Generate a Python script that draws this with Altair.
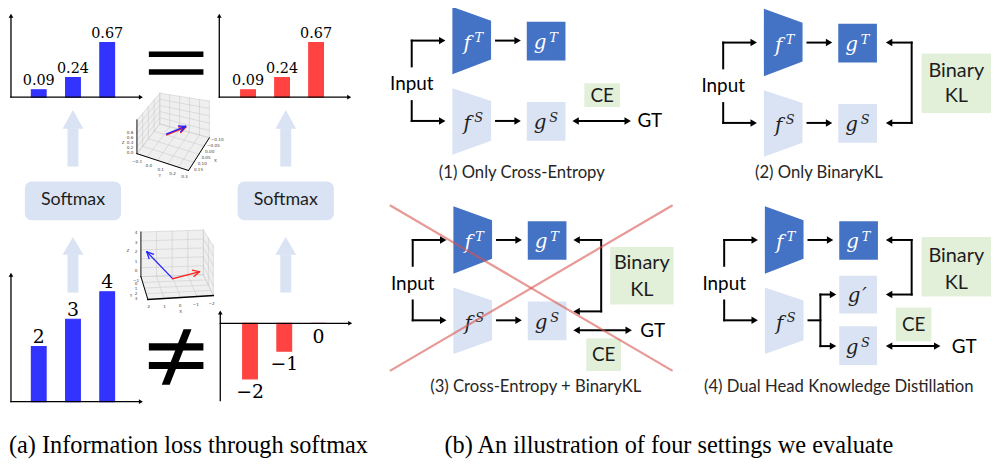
import math
import altair as alt
import pandas as pd

# ---------------- values ----------------
probs = [0.09, 0.24, 0.67]
prob_labels = ["0.09", "0.24", "0.67"]
logits_pos = [2, 3, 4]
logits_pos_labels = ["2", "3", "4"]
logits_neg = [-2, -1, 0]
logits_neg_labels = ["\u22122", "\u22121", "0"]

softmax_text = "Softmax"
input_text = "Input"
ce_text = "CE"
gt_text = "GT"
kl_text = ["Binary", "KL"]
setting_titles = ["(1) Only Cross-Entropy", "(2) Only BinaryKL",
                  "(3) Cross-Entropy + BinaryKL", "(4) Dual Head Knowledge Distillation"]
subcaptions = ["(a) Information loss through softmax",
               "(b) An illustration of four settings we evaluate"]

top3d_z = ["0.8", "0.6", "0.4", "0.2", "0.0"]
top3d_y = ["\u22120.1", "0.0", "0.1", "0.2", "0.3"]
top3d_x = ["0.15", "0.10", "0.05", "0.00", "\u22120.05", "\u22120.10"]
low3d_z = ["4", "3", "2", "1", "0", "\u22121"]
low3d_y = ["0", "1", "2", "3"]
low3d_x = ["2", "1", "0", "\u22121", "\u22122"]

# ---------------- styles ----------------
DARK = "#4472C4"
LIGHT = "#DAE3F3"
GREEN = "#E2F0D9"
BAR_BLUE = "#3333FF"
BAR_RED = "#FF4343"
PANE = "#EFEFEF"
GRID = "#CDCDCD"
INK = "#000000"
TXT = "#1E1E1E"

W, H = 992, 457
sx = alt.Scale(domain=[8, 8 + W], nice=False, zero=False)
sy = alt.Scale(domain=[8, 8 + H], nice=False, zero=False, reverse=True)


def ex(f):
    return alt.X(f"{f}:Q", scale=sx, axis=None)


def ey(f):
    return alt.Y(f"{f}:Q", scale=sy, axis=None, stack=None)


def C(f="c"):
    return alt.Color(f"{f}:N", scale=None)


rects, rrects, polys, rules, tris = [], [], [], [], []
sans, math_t, tiny, cross = [], [], [], []


def rect(x1, y1, x2, y2, c):
    rects.append(dict(x=x1, y=y1, x2=x2, y2=y2, c=c))


def poly(verts, c):
    # a filled polygon drawn as a point symbol whose outline is given relative to its centre
    cx = sum(v[0] for v in verts) / len(verts)
    cy = sum(v[1] for v in verts) / len(verts)
    path = "M" + "L".join(f"{v[0] - cx:.2f},{v[1] - cy:.2f}" for v in verts) + "Z"
    polys.append(dict(x=cx, y=cy, s=path, c=c))


def rule(x1, y1, x2, y2, w=2.0, c=INK):
    rules.append(dict(x=x1, y=y1, x2=x2, y2=y2, w=w, c=c))


def head(tx, ty, d, sz=56, c=INK):
    h = 0.433 * math.sqrt(sz)
    dx, dy = {"right": (1, 0), "left": (-1, 0), "up": (0, -1)}[d]
    tris.append(dict(x=tx - dx * h, y=ty - dy * h, s="triangle-" + d, sz=sz, c=c))


def arrow_r(x0, y, tip):
    rule(x0, y, tip - 6, y)
    head(tip, y, "right")


def arrow_l(x0, y, tip):
    rule(tip + 6, y, x0, y)
    head(tip, y, "left")


def dbl(xa, xb, y):
    rule(xa + 6, y, xb - 6, y)
    head(xa, y, "left")
    head(xb, y, "right")


def text(x, y, t, fs, c=TXT):
    sans.append(dict(x=x, y=y, t=t, fs=fs, c=c))


def mathsym(main, sup, cx, cy, c):
    if main == "f":
        math_t.append(dict(x=cx - 4.5, y=cy + 9, t="f", fs=20, c=c))
        math_t.append(dict(x=cx + 7, y=cy + 1, t=sup, fs=13, c=c))
    else:
        math_t.append(dict(x=cx - 6, y=cy + 8, t="g", fs=20, c=c))
        math_t.append(dict(x=cx + 7.5, y=cy + 1, t=sup, fs=13, c=c))


# ---------------- panel (a): bars ----------------
bar_specs = [
    (probs, prob_labels, 39, 34.5, 96, 82, BAR_BLUE, -5, 14.5),
    (probs, prob_labels, 250, 34.3, 96, 82, BAR_RED, -5, 14.5),
    (logits_pos, logits_pos_labels, 39, 34.5, 403, 27.7, BAR_BLUE, -3.5, 19),
    (logits_neg, logits_neg_labels, 252, 34.5, 324, 28, BAR_RED, 19.5, 19),
]
bar_rows = []
for vals, labs, x0, dx, base, unit, col, loff, fs in bar_specs:
    for i, (v, lab) in enumerate(zip(vals, labs)):
        bar_rows.append(dict(val=v, lab=lab, i=i, x0=x0, dx=dx, base=base,
                             unit=unit, c=col, loff=loff, fs=fs))
bars_df = pd.DataFrame(bar_rows)

# axes of the four small bar charts
for (ax, ay, ytop, xend) in [(11, 96, 12, 144), (221, 96, 12, 354), (11, 403, 273, 144)]:
    rule(ax, ytop + 3, ax, ay, 1.3)
    rule(ax, ay, xend - 4, ay, 1.3)
    head(ax, ytop, "up", 22)
    head(xend, ay, "right", 22)
rule(222, 314, 222, 402, 1.3)
rule(222, 324, 351, 324, 1.3)
head(222, 311, "up", 22)
head(355, 324, "right", 22)

# = and != signs
rect(150, 50, 205, 55.5, INK)
rect(150, 68, 205, 73.5, INK)
rect(150, 344, 205, 351.5, INK)
rect(150, 363, 205, 370, INK)
poly([(185, 330), (193, 330), (171, 386), (163, 386)], INK)

# softmax boxes and light block arrows
for cx in (73.5, 288):
    rrects.append(dict(x=cx - 48.5, y=181, x2=cx + 48.5, y2=220, c=LIGHT))
    text(cx, 200, softmax_text, 18)
    for (tip, base, bot) in [(109, 128, 166), (237, 255, 293)]:
        rect(cx - 5.5, base - 0.5, cx + 5.5, bot, LIGHT)
        poly([(cx - 10.5, base), (cx, tip), (cx + 10.5, base)], LIGHT)


# ---------------- panel (a): 3D plots ----------------
def lerp(a, b, t):
    return (a[0] + (b[0] - a[0]) * t, a[1] + (b[1] - a[1]) * t)


def pane_grid(a, b, c, d, nu, nv):
    for k in range(0, nu + 1):
        p, q = lerp(a, b, k / nu), lerp(d, c, k / nu)
        rule(p[0], p[1], q[0], q[1], 0.6, GRID)
    for k in range(0, nv + 1):
        p, q = lerp(a, d, k / nv), lerp(b, c, k / nv)
        rule(p[0], p[1], q[0], q[1], 0.6, GRID)


def vec_arrow(o, p, c, w=1.3, hl=7, ang=26):
    rule(o[0], o[1], p[0], p[1], w, c)
    vx, vy = o[0] - p[0], o[1] - p[1]
    n = math.hypot(vx, vy)
    vx, vy = vx / n, vy / n
    for s in (1, -1):
        a = math.radians(ang) * s
        rx = vx * math.cos(a) - vy * math.sin(a)
        ry = vx * math.sin(a) + vy * math.cos(a)
        rule(p[0], p[1], p[0] + hl * rx, p[1] + hl * ry, w, c)


Lt, Lb, Bt, Bb, Rt, Rb, Fr = (138, 119), (138, 153), (161, 92), (161, 123), (211, 100), (211, 137), (190, 170)
upper_panes = [(Lt, Bt, Bb, Lb, 4, 5), (Bt, Rt, Rb, Bb, 5, 5), (Lb, Bb, Rb, Fr, 4, 5)]
lower_panes = [((142, 232), (205, 230), (205, 275), (142, 277), 4, 5),
               ((205, 230), (215, 246), (215, 296), (205, 275), 2, 5),
               ((142, 277), (205, 275), (215, 296), (149, 300), 4, 4)]
for pset in (upper_panes, lower_panes):
    for a, b, c, d, nu, nv in pset:
        poly([a, b, c, d], PANE)
for pset in (upper_panes, lower_panes):
    for a, b, c, d, nu, nv in pset:
        pane_grid(a, b, c, d, nu, nv)

rule(Lt[0], Lt[1], Lb[0], Lb[1], 0.9)
rule(Lb[0], Lb[1], Fr[0], Fr[1], 1.0)
rule(Fr[0], Fr[1], Rb[0], Rb[1], 1.0)
rule(142, 232, 142, 277, 0.9)
rule(142, 277, 149, 300, 1.0)
rule(149, 300, 215, 296, 1.4)

vec_arrow((168, 134), (187, 126.5), "#FF2020")
vec_arrow((168, 133), (187, 125.5), "#2020FF")
vec_arrow((174, 279), (148, 252), "#2020FF")
vec_arrow((174, 279), (201, 272), "#FF2020")

for k, t in enumerate(top3d_z):
    tiny.append(dict(x=131, y=132 + k * 5.2, t=t))
tiny.append(dict(x=124, y=142, t="Z"))
for k, t in enumerate(top3d_y):
    p = lerp(Lb, Fr, 0.02 + k * 0.23)
    tiny.append(dict(x=p[0] - 1, y=p[1] + 8, t=t))
tiny.append(dict(x=161, y=176, t="Y"))
for k, t in enumerate(top3d_x):
    p = lerp(Fr, Rb, 0.05 + k * 0.18)
    tiny.append(dict(x=p[0] + 9, y=p[1] + 1, t=t))
tiny.append(dict(x=217, y=160, t="X"))
for k, t in enumerate(low3d_z):
    tiny.append(dict(x=137, y=233 + k * 9.6, t=t))
tiny.append(dict(x=129, y=251, t="Z"))
for k, t in enumerate(low3d_y):
    tiny.append(dict(x=137, y=284 + k * 5.3, t=t))
tiny.append(dict(x=132, y=296, t="Y"))
for k, t in enumerate(low3d_x):
    tiny.append(dict(x=150 + k * 15.8, y=308 - k * 0.9, t=t))
tiny.append(dict(x=182, y=313, t="X"))


# ---------------- panel (b): four diagrams ----------------
def diagram(ox, oy, has_gs=True):
    def P(x, y):
        return x + ox, y + oy
    x, y = P(415, 39); rule(x, y, x, y + 26); arrow_r(x, y, x + 34)
    x, y = P(415, 120); rule(x, y - 20, x, y); arrow_r(x, y, x + 34)
    poly([P(456, 5), P(495, 19), P(495, 58), P(456, 73)], DARK)
    poly([P(456, 87), P(495, 100), P(495, 140), P(456, 154)], LIGHT)
    x, y = P(500, 39); arrow_r(x, y, x + 25)
    x1, y1 = P(531, 20); x2, y2 = P(570, 59); rect(x1, y1, x2, y2, DARK)
    x, y = P(415, 83); text(x, y, input_text, 19, INK)
    cx, cy = P(475.5, 39); mathsym("f", "T", cx, cy, "#FFFFFF")
    cx, cy = P(475.5, 120.5); mathsym("f", "S", cx, cy, TXT)
    cx, cy = P(550.5, 39.5); mathsym("g", "T", cx, cy, "#FFFFFF")
    if has_gs:
        x, y = P(500, 120); arrow_r(x, y, x + 25)
        x1, y1 = P(531, 101); x2, y2 = P(570, 140); rect(x1, y1, x2, y2, LIGHT)
        cx, cy = P(550.5, 120.5); mathsym("g", "S", cx, cy, TXT)


def kl_box(x1, y1, x2, y2, ty1, ty2):
    rect(x1, y1, x2, y2, GREEN)
    text((x1 + x2) / 2, ty1, kl_text[0], 20)
    text((x1 + x2) / 2, ty2, kl_text[1], 20)


def ce_box(x1, y1, x2, y2):
    rect(x1, y1, x2, y2, GREEN)
    text((x1 + x2) / 2, (y1 + y2) / 2 + 0.5, ce_text, 19)


def bracket(xt, xv, ya, yb):
    arrow_l(xv, ya, xt)
    rule(xv, ya, xv, yb)
    arrow_l(xv, yb, xt)


# (1)
diagram(0, 0)
ce_box(589, 82, 625, 106)
dbl(577, 636, 120)
text(655, 120.5, gt_text, 19, INK)
# (2)
diagram(314, 2)
bracket(893, 919, 41, 122)
kl_box(929, 52, 999, 112, 70, 95)
# (3)
diagram(1, 201)
bracket(578, 606, 240, 312)
kl_box(615, 247, 679, 305, 263, 290)
dbl(578, 637, 331)
text(658, 331.5, gt_text, 19, INK)
ce_box(591, 339, 626, 372)
cross.append(dict(x=393, y=205, x2=678, y2=372))
cross.append(dict(x=393, y=372, x2=678, y2=205))
# (4)
diagram(315, 201, has_gs=False)
rule(815, 321, 827, 321)
rule(827, 295, 827, 347)
arrow_r(827, 295, 843)
arrow_r(827, 347, 843)
rect(846, 276, 884, 314, LIGHT)
math_t.append(dict(x=861, y=303, t="g", fs=20, c=TXT))
math_t.append(dict(x=871.5, y=303, t="\u2032", fs=20, c=TXT))
rect(846, 327, 884, 366, LIGHT)
mathsym("g", "S", 865, 346.5, TXT)
bracket(893, 919, 240, 295)
kl_box(929, 237, 999, 297, 256, 283)
ce_box(903, 308, 939, 342)
dbl(893, 948, 347)
text(972, 347.5, gt_text, 19, INK)

for t, (cx, cy) in zip(setting_titles, [(526, 173), (825.5, 173), (540, 388), (845.5, 388)]):
    text(cx, cy, t, 16.8, "#262626")

caps = [dict(x=9, y=455, t=subcaptions[0]), dict(x=448, y=455, t=subcaptions[1])]

# ---------------- layers ----------------
l_rrect = alt.Chart(pd.DataFrame(rrects)).mark_rect(cornerRadius=7).encode(
    x=ex("x"), x2="x2:Q", y=ey("y"), y2="y2:Q", color=C())
l_rect = alt.Chart(pd.DataFrame(rects)).mark_rect().encode(
    x=ex("x"), x2="x2:Q", y=ey("y"), y2="y2:Q", color=C())
l_poly = alt.Chart(pd.DataFrame(polys)).mark_point(
    filled=True, opacity=1, strokeWidth=0, size=4).encode(
    x=ex("x"), y=ey("y"), shape=alt.Shape("s:N", scale=None), color=C())
l_bars = alt.Chart(bars_df).transform_calculate(
    xl="datum.x0 + datum.i * datum.dx - 7.4",
    xr="datum.x0 + datum.i * datum.dx + 7.4",
    yend="datum.base - datum.val * datum.unit",
).mark_rect(strokeWidth=1.2).encode(
    x=ex("xl"), x2="xr:Q", y=ey("base"), y2="yend:Q", color=C(), stroke=alt.Stroke("c:N", scale=None))
l_bar_text = alt.Chart(bars_df).transform_calculate(
    xc="datum.x0 + datum.i * datum.dx",
    ylab="datum.base - datum.val * datum.unit + datum.loff",
).mark_text(font="DejaVu Serif", baseline="alphabetic", align="center", color=INK).encode(
    x=ex("xc"), y=ey("ylab"), text="lab:N", size=alt.Size("fs:Q", scale=None))
l_rules = alt.Chart(pd.DataFrame(rules)).mark_rule(strokeCap="square").encode(
    x=ex("x"), x2="x2:Q", y=ey("y"), y2="y2:Q", color=C(),
    strokeWidth=alt.StrokeWidth("w:Q", scale=None))
l_tris = alt.Chart(pd.DataFrame(tris)).mark_point(filled=True, opacity=1, strokeWidth=0).encode(
    x=ex("x"), y=ey("y"), shape=alt.Shape("s:N", scale=None),
    size=alt.Size("sz:Q", scale=None), color=C())
l_sans = alt.Chart(pd.DataFrame(sans)).mark_text(font="Lato", baseline="middle", align="center").encode(
    x=ex("x"), y=ey("y"), text="t:N", size=alt.Size("fs:Q", scale=None), color=C())
l_math = alt.Chart(pd.DataFrame(math_t)).mark_text(
    font="DejaVu Serif", fontStyle="italic", baseline="alphabetic", align="center").encode(
    x=ex("x"), y=ey("y"), text="t:N", size=alt.Size("fs:Q", scale=None), color=C())
l_tiny = alt.Chart(pd.DataFrame(tiny)).mark_text(
    font="DejaVu Sans", fontSize=4.2, baseline="middle", align="center", color="#444444").encode(
    x=ex("x"), y=ey("y"), text="t:N")
l_caps = alt.Chart(pd.DataFrame(caps)).mark_text(
    font="Liberation Serif", fontSize=24.5, baseline="alphabetic", align="left", color=INK).encode(
    x=ex("x"), y=ey("y"), text="t:N")
l_cross = alt.Chart(pd.DataFrame(cross)).mark_rule(color="#D9534F", opacity=0.6, strokeWidth=2.2).encode(
    x=ex("x"), x2="x2:Q", y=ey("y"), y2="y2:Q")

chart = alt.layer(
    l_rrect, l_rect, l_poly, l_bars, l_rules, l_tris, l_bar_text,
    l_sans, l_math, l_tiny, l_caps, l_cross
).properties(
    width=W, height=H, padding=0,
    autosize=alt.AutoSizeParams(type="none"), background="white"
).configure_view(stroke=None)

chart.save("out.html", embed_options={"renderer": "svg", "actions": False})
